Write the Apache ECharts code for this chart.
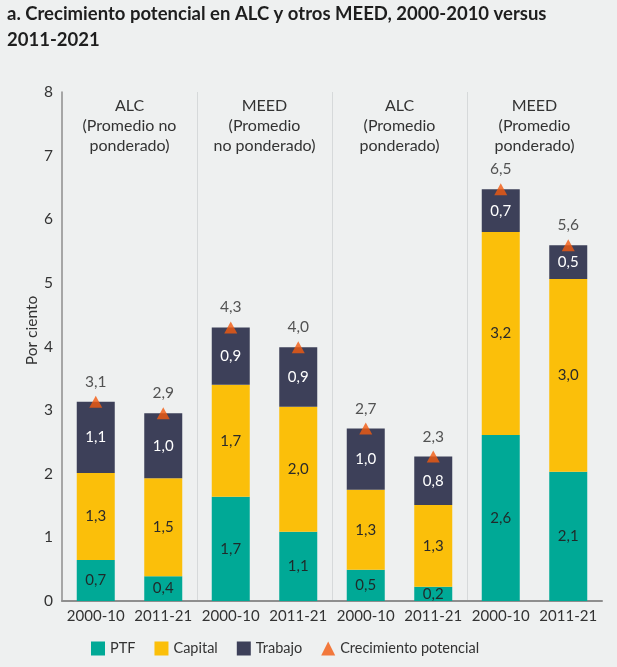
<!DOCTYPE html>
<html>
<head>
<meta charset="utf-8">
<script src="https://cdn.jsdelivr.net/npm/echarts@6/dist/echarts.min.js"></script>
<style>
html,body{margin:0;padding:0;background:#eef0f0;}
#chart{width:617px;height:667px;}
</style>
</head>
<body>
<div id="chart"></div>
<script>
var categories = ['2000-10','2011-21','2000-10','2011-21','2000-10','2011-21','2000-10','2011-21'];
var groups = ['ALC\n(Promedio no\nponderado)','MEED\n(Promedio\nno ponderado)','ALC\n(Promedio\nponderado)','MEED\n(Promedio\nponderado)'];
var ptf = [0.645, 0.39, 1.64, 1.09, 0.49, 0.225, 2.61, 2.03];
var capital = [1.365, 1.54, 1.76, 1.965, 1.26, 1.285, 3.19, 3.03];
var trabajo = [1.12, 1.02, 0.90, 0.935, 0.96, 0.76, 0.67, 0.53];
var potencial = [3.13, 2.95, 4.30, 3.99, 2.71, 2.27, 6.47, 5.59];
var ptfLabels = ['0,7','0,4','1,7','1,1','0,5','0,2','2,6','2,1'];
var capitalLabels = ['1,3','1,5','1,7','2,0','1,3','1,3','3,2','3,0'];
var trabajoLabels = ['1,1','1,0','0,9','0,9','1,0','0,8','0,7','0,5'];
var potencialLabels = ['3,1','2,9','4,3','4,0','2,7','2,3','6,5','5,6'];
var yTicks = [0, 8, 1];

var FONT = 'Lato';
var chart = echarts.init(document.getElementById('chart'));
function lab(arr, color) {
  return {show: true, position: 'inside', color: color, fontSize: 15, fontFamily: FONT,
    formatter: function (p) { return arr[p.dataIndex]; }};
}
chart.setOption({
  backgroundColor: '#eef0f0',
  animation: false,
  textStyle: {fontFamily: FONT},
  title: {
    text: 'a. Crecimiento potencial en ALC y otros MEED, 2000-2010 versus\n2011-2021',
    left: 7, top: 1, padding: 0,
    textStyle: {fontSize: 18.5, fontWeight: 'bold', color: '#1e1e1e', fontFamily: FONT, lineHeight: 26}
  },
  grid: {left: 62, right: 15, top: 92, bottom: 66},
  legend: {
    left: 91, top: 641, itemGap: 19, itemWidth: 14, itemHeight: 14, padding: 0,
    textStyle: {fontSize: 14.5, color: '#333', fontFamily: FONT},
    data: [
      {name: 'PTF', icon: 'rect'},
      {name: 'Capital', icon: 'rect'},
      {name: 'Trabajo', icon: 'rect'},
      {name: 'Crecimiento potencial', icon: 'triangle'}
    ]
  },
  xAxis: [{
    type: 'category', data: categories, position: 'bottom',
    axisLine: {lineStyle: {color: '#8e8e8e', width: 2}},
    axisTick: {show: false},
    axisLabel: {color: '#333', fontSize: 15, margin: 8, fontFamily: FONT, interval: 0}
  }, {
    type: 'category', data: groups, position: 'top',
    axisLine: {show: false}, axisTick: {show: false},
    axisLabel: {inside: true, interval: 0, verticalAlign: 'top', margin: 4,
      color: '#333', fontSize: 16, lineHeight: 20, fontFamily: FONT, align: 'center'},
    splitLine: {show: true, showMinLine: false, showMaxLine: false, lineStyle: {color: '#d6d9da', width: 1}}
  }],
  yAxis: {
    type: 'value', min: yTicks[0], max: yTicks[1], interval: yTicks[2],
    name: 'Por ciento', nameLocation: 'middle', nameRotate: 90, nameGap: 22, nameMoveOverlap: false,
    nameTextStyle: {fontSize: 15.5, color: '#333', fontFamily: FONT, padding: [0, 0, 0, 32]},
    axisLine: {show: true, lineStyle: {color: '#8e8e8e', width: 1.5}},
    axisTick: {show: false},
    splitLine: {show: false},
    axisLabel: {color: '#333', fontSize: 15.5, margin: 9, fontFamily: FONT}
  },
  series: [
    {name: 'PTF', type: 'bar', stack: 's', data: ptf, barWidth: 38,
      itemStyle: {color: '#00a996'}, label: lab(ptfLabels, '#1f2a2a')},
    {name: 'Capital', type: 'bar', stack: 's', data: capital, barWidth: 38,
      itemStyle: {color: '#fbbf0a'}, label: lab(capitalLabels, '#2a2a2a')},
    {name: 'Trabajo', type: 'bar', stack: 's', data: trabajo, barWidth: 38,
      itemStyle: {color: '#3d4059'}, label: lab(trabajoLabels, '#ffffff')},
    {name: 'Crecimiento potencial', type: 'scatter', data: potencial, symbol: 'triangle',
      symbolSize: [13, 12], z: 5, itemStyle: {color: '#f25a0f'},
      label: {show: true, position: 'top', distance: 6, color: '#2a2a2a', fontSize: 15.5, fontFamily: FONT,
        formatter: function (p) { return potencialLabels[p.dataIndex]; }}}
  ]
});
</script>
</body>
</html>
